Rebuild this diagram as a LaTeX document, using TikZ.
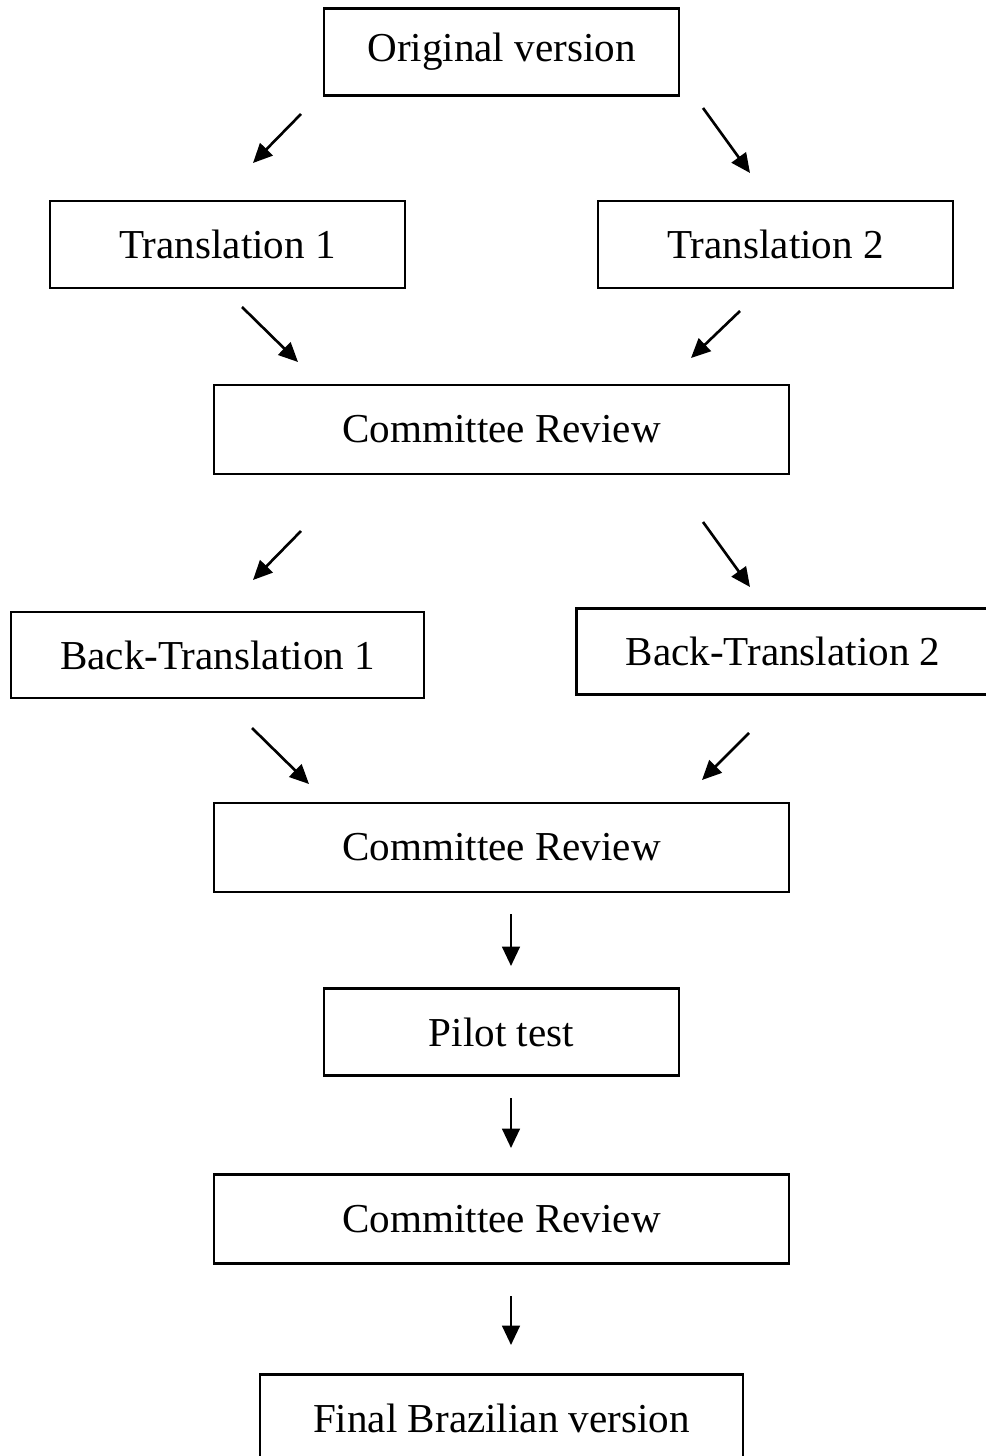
\documentclass[tikz,border=0pt]{standalone}
\usepackage{fontspec}
\setmainfont{Liberation Serif}
\usetikzlibrary{arrows.meta}

\begin{document}
\begin{tikzpicture}[
  x=0.02cm, y=-0.02cm,
  box/.style={draw, line width=1.3pt, minimum width=7.1cm, minimum height=1.74cm,
    inner sep=0pt, font=\fontsize{23.4}{28}\selectfont},
  wide/.style={box, minimum width=11.5cm, minimum height=1.78cm},
  back/.style={box, minimum width=8.26cm, minimum height=1.72cm},
  line/.style={-{Triangle[length=11pt, width=10pt]}, line width=1.5pt}
]
\useasboundingbox (0,0) rectangle (985,1456);

\node[box] (orig) at (501.5,52) {Original version};
\node[box] (t1) at (227.5,244.5) {Translation 1};
\node[box] (t2) at (775.5,244.5) {Translation 2};
\node[wide] (cr1) at (501.5,429.5) {Committee Review};
\node[back] (bt1) at (217.5,655) {Back-Translation 1};
\node[back] (bt2) at (783,651.5) {Back-Translation 2};
\node[wide] (cr2) at (501.5,847.5) {Committee Review};
\node[box] (pilot) at (501.5,1032) {Pilot test};
\node[wide] (cr3) at (501.5,1219) {Committee Review};
\node[box, minimum width=9.66cm] (final) at (501.5,1418) {Final Brazilian version};

% free-standing arrows
\coordinate (a1s) at (301,114); \coordinate (a1e) at (253,163);
\coordinate (a2s) at (703,108); \coordinate (a2e) at (750,173);
\coordinate (a3s) at (242,307); \coordinate (a3e) at (298,362);
\coordinate (a4s) at (740,311); \coordinate (a4e) at (691,358);
\coordinate (a5s) at (301,531); \coordinate (a5e) at (253,580);
\coordinate (a6s) at (703,522); \coordinate (a6e) at (750,587);
\coordinate (a7s) at (252,728); \coordinate (a7e) at (309,784);
\coordinate (a8s) at (749,733); \coordinate (a8e) at (702,780);
\coordinate (a9s) at (511,914); \coordinate (a9e) at (511,966);
\coordinate (a10s) at (511,1098); \coordinate (a10e) at (511,1148);
\coordinate (a11s) at (511,1296); \coordinate (a11e) at (511,1345);

\foreach \i in {1,...,11}
  \draw[line] (a\i s) -- (a\i e);
\end{tikzpicture}
\end{document}
